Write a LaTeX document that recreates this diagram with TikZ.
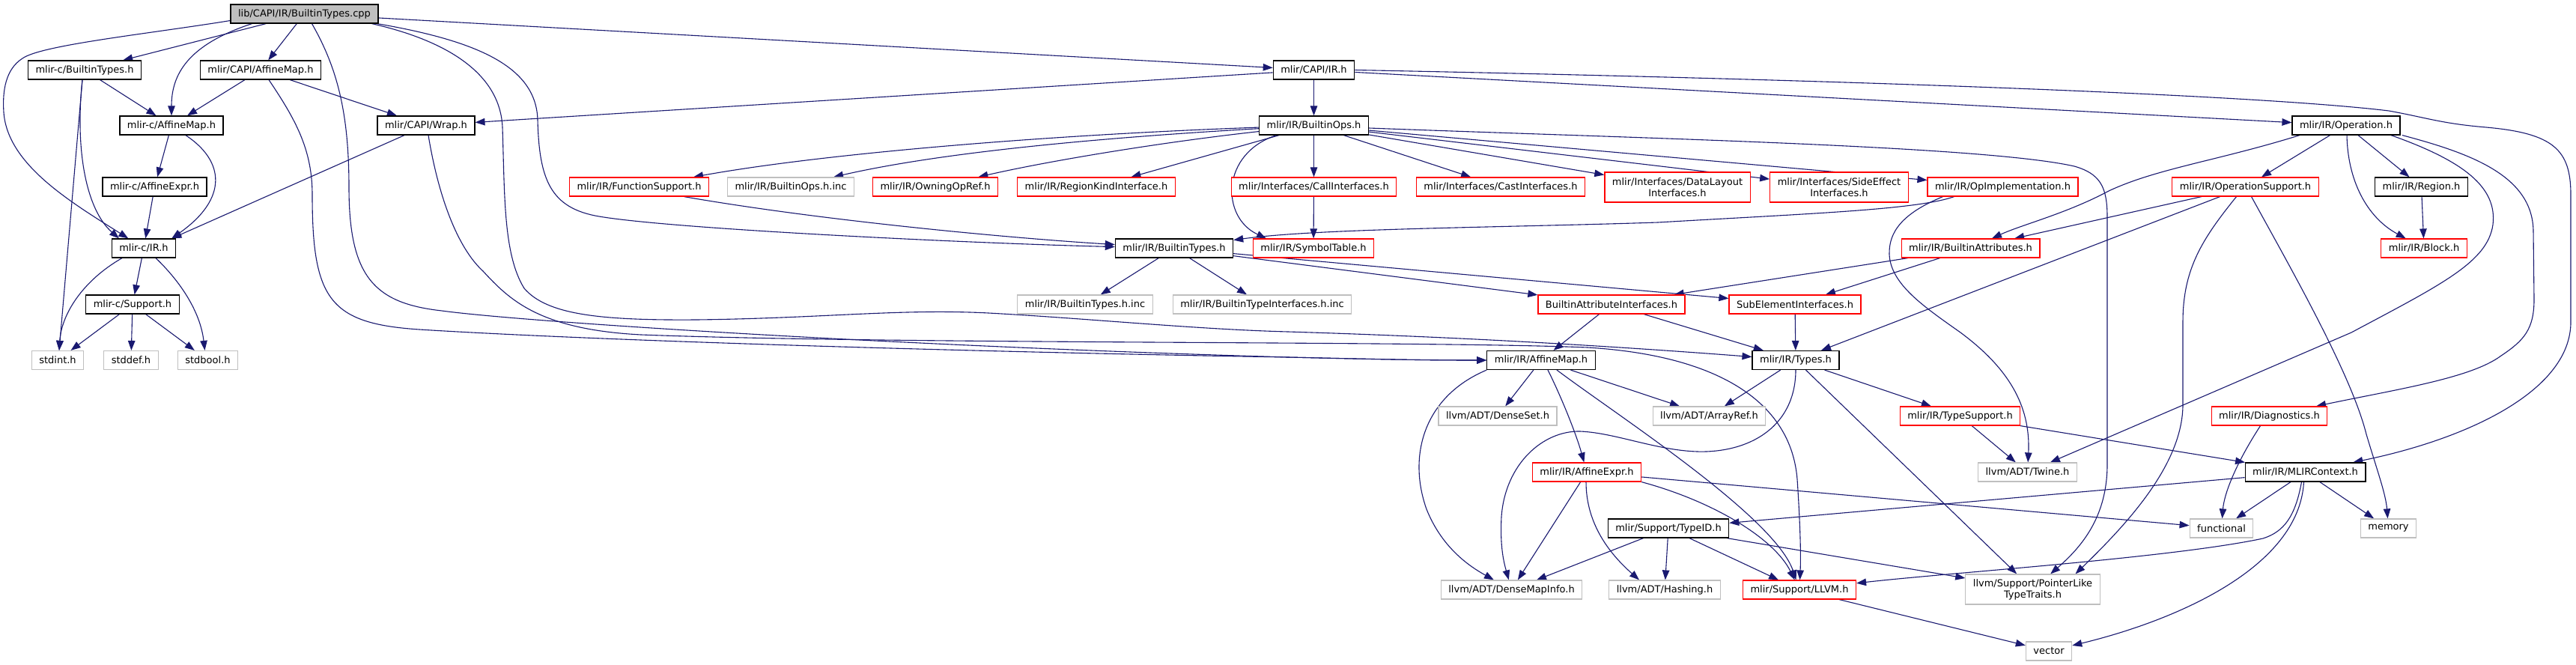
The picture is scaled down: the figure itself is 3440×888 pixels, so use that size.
\documentclass[tikz,border=0pt]{standalone}
\usepackage{fontspec}
\setmainfont{DejaVu Sans}
\usetikzlibrary{arrows.meta}
\definecolor{edgec}{HTML}{191970}
\definecolor{grayb}{HTML}{BFBFBF}
\definecolor{redc}{HTML}{FF0000}
\pgfdeclarelayer{back}
\pgfdeclarelayer{edges}
\pgfsetlayers{back,edges,main}
\begin{document}
\begin{tikzpicture}[x=1pt,y=-1pt,
  nbox/.style={draw, line width=1.2pt, inner xsep=10pt, inner ysep=0pt, minimum height=25pt,
    font=\fontsize{13pt}{15pt}\selectfont, fill=white, text=black},
  blk/.style={nbox, draw=black},
  redb/.style={nbox, draw=redc},
  gryb/.style={nbox, draw=grayb},
  root/.style={nbox, draw=black, fill=grayb},
  two/.style={align=center, minimum height=40pt},
  dep/.style={draw=edgec, line width=1.1pt, -{Triangle[length=13pt,width=9.5pt]}}]
\useasboundingbox (0,0) rectangle (3440,888);
\begin{pgfonlayer}{back}
\fill[white] (0,0) rectangle (3440,888);
\end{pgfonlayer}

\node[root] (T) at (406.5,18.5) {lib/CAPI/IR/BuiltinTypes.cpp};
\node[blk] (cBT) at (113,93.5) {mlir-c/BuiltinTypes.h};
\node[blk] (CAM) at (348,93.5) {mlir/CAPI/AffineMap.h};
\node[blk] (CIR) at (1754.5,93.5) {mlir/CAPI/IR.h};
\node[blk] (cAM) at (229,167.5) {mlir-c/AffineMap.h};
\node[blk] (Wrap) at (569,167.5) {mlir/CAPI/Wrap.h};
\node[blk] (BOps) at (1754.5,167.5) {mlir/IR/BuiltinOps.h};
\node[blk] (Op) at (3133,167.5) {mlir/IR/Operation.h};
\node[blk] (cAE) at (206.5,249.5) {mlir-c/AffineExpr.h};
\node[redb] (FS) at (853.5,249.5) {mlir/IR/FunctionSupport.h};
\node[gryb] (BOpsInc) at (1056,249.5) {mlir/IR/BuiltinOps.h.inc};
\node[redb] (OOR) at (1249,249.5) {mlir/IR/OwningOpRef.h};
\node[redb] (RKI) at (1464,249.5) {mlir/IR/RegionKindInterface.h};
\node[redb] (CallI) at (1754.5,249.5) {mlir/Interfaces/CallInterfaces.h};
\node[redb] (CastI) at (2004,249.5) {mlir/Interfaces/CastInterfaces.h};
\node[redb,two] (DLI) at (2240,250) {mlir/Interfaces/DataLayout\\Interfaces.h};
\node[redb,two] (SEI) at (2456,250) {mlir/Interfaces/SideEffect\\Interfaces.h};
\node[redb] (OpImpl) at (2674.5,249.5) {mlir/IR/OpImplementation.h};
\node[redb] (OpSup) at (2998.5,249.5) {mlir/IR/OperationSupport.h};
\node[blk] (Region) at (3233.5,249.5) {mlir/IR/Region.h};
\node[blk] (cIRh) at (192,331.5) {mlir-c/IR.h};
\node[blk] (BT) at (1568,331.5) {mlir/IR/BuiltinTypes.h};
\node[redb] (ST) at (1754,331.5) {mlir/IR/SymbolTable.h};
\node[redb] (BA) at (2631.5,331.5) {mlir/IR/BuiltinAttributes.h};
\node[redb] (Block) at (3237,331.5) {mlir/IR/Block.h};
\node[blk] (cSup) at (177,406.5) {mlir-c/Support.h};
\node[gryb] (BTInc) at (1449,406.5) {mlir/IR/BuiltinTypes.h.inc};
\node[gryb] (BTIInc) at (1685.5,406.5) {mlir/IR/BuiltinTypeInterfaces.h.inc};
\node[redb] (BAI) at (2152,406.5) {BuiltinAttributeInterfaces.h};
\node[redb] (SubEI) at (2397,406.5) {SubElementInterfaces.h};
\node[gryb] (stdint) at (77,481) {stdint.h};
\node[gryb] (stddef) at (175,481) {stddef.h};
\node[gryb] (stdbool) at (277.5,481) {stdbool.h};
\node[blk] (IRAM) at (2058,481) {mlir/IR/AffineMap.h};
\node[blk] (Types) at (2398,481) {mlir/IR/Types.h};
\node[gryb] (DenseSet) at (2000,555.5) {llvm/ADT/DenseSet.h};
\node[gryb] (ArrayRef) at (2282.5,555.5) {llvm/ADT/ArrayRef.h};
\node[redb] (TypeSup) at (2617.5,555.5) {mlir/IR/TypeSupport.h};
\node[redb] (Diag) at (3030.5,555.5) {mlir/IR/Diagnostics.h};
\node[redb] (AE) at (2119,630.5) {mlir/IR/AffineExpr.h};
\node[gryb] (Twine) at (2707.5,630.5) {llvm/ADT/Twine.h};
\node[blk] (Ctx) at (3078.5,630.5) {mlir/IR/MLIRContext.h};
\node[blk] (TypeID) at (2228,705.5) {mlir/Support/TypeID.h};
\node[gryb] (functional) at (2966.5,705.5) {functional};
\node[gryb] (memory) at (3189.5,705.5) {memory};
\node[gryb] (DMI) at (2018.5,787.5) {llvm/ADT/DenseMapInfo.h};
\node[gryb] (Hashing) at (2223,787.5) {llvm/ADT/Hashing.h};
\node[redb] (LLVM) at (2403,787.5) {mlir/Support/LLVM.h};
\node[gryb,two] (PLTT) at (2714.5,787) {llvm/Support/PointerLike\\TypeTraits.h};
\node[gryb] (vector) at (2736,869.5) {vector};

\begin{pgfonlayer}{edges}
% root
\draw[dep] (T) -- (cBT);
\draw[dep] (T) -- (CAM);
\draw[dep] ([xshift=-70pt]T.south) .. controls (250,60) and (229,100) .. (cAM);
\draw[dep] ([yshift=-9pt]T.west) .. controls (200,45) and (55,60) .. (30,78) .. controls (8,92) and (3,120) .. (5,150) .. controls (10,220) and (95,270) .. (cIRh);
\draw[dep] (T) -- (CIR);
\draw[dep] ([xshift=-2pt]T.south east) .. controls (640,55) and (716,90) .. (718,160) .. controls (720,240) and (735,278) .. (800,289) .. controls (900,306) and (1300,325) .. (BT);
\draw[dep] ([xshift=10pt]T.south) .. controls (450,90) and (466,150) .. (466,250) .. controls (466,370) and (500,405) .. (590,415) .. controls (700,430) and (1200,462) .. (1720,477) .. controls (1850,480) and (1900,481) .. (IRAM);
\draw[dep] ([xshift=90pt]T.south) .. controls (600,55) and (668,100) .. (671,170) .. controls (674,260) and (672,340) .. (700,385) .. controls (730,420) and (800,428) .. (930,427) .. controls (1100,425) and (1200,412) .. (1320,418) .. controls (1450,425) and (1600,440) .. (1720,443) .. controls (1950,450) and (2150,462) .. (Types);
% CAPI AffineMap
\draw[dep] ([xshift=11pt]CAM.south) .. controls (395,160) and (417,200) .. (417,260) .. controls (417,400) and (440,432) .. (560,440) .. controls (800,455) and (1300,470) .. (1720,477) .. controls (1850,480) and (1900,481) .. (IRAM);
\draw[dep] (CAM) -- (cAM);
\draw[dep] (CAM) -- (Wrap);
% Wrap
\draw[dep] ([xshift=3pt]Wrap.south) .. controls (585,260) and (610,330) .. (645,362) .. controls (680,400) and (720,440) .. (856,447) .. controls (1200,460) and (1900,455) .. (2120,464) .. controls (2300,475) and (2392,540) .. (2400,640) .. controls (2404,700) and (2405,740) .. (LLVM);
\draw[dep] ([xshift=-29pt]Wrap.south) -- ([xshift=-6pt]cIRh.north east);
% mlir-c
\draw[dep] (cBT) -- (cAM);
\draw[dep] ([xshift=-3pt]cBT.south) .. controls (100,200) and (115,280) .. ([xshift=-33pt]cIRh.north);
\draw[dep] ([xshift=-3pt]cBT.south) -- ([xshift=2pt]stdint.north);
\draw[dep] (cAM) -- (cAE);
\draw[dep] ([xshift=19pt]cAM.south) .. controls (300,215) and (305,265) .. ([xshift=-6pt]cIRh.north east);
\draw[dep] (cAE) -- (cIRh);
\draw[dep] (cIRh) -- (cSup);
\draw[dep] ([xshift=-29pt]cIRh.south) .. controls (110,375) and (82,420) .. ([xshift=2pt]stdint.north);
\draw[dep] ([xshift=16pt]cIRh.south) .. controls (245,380) and (268,420) .. ([xshift=-4pt]stdbool.north);
\draw[dep] (cSup) -- (stdint);
\draw[dep] (cSup) -- (stddef);
\draw[dep] (cSup) -- (stdbool);
% CAPI IR
\draw[dep] (CIR) -- (Wrap);
\draw[dep] (CIR) -- (BOps);
\draw[dep] (CIR) -- (Op);
\draw[dep] (CIR.east) .. controls (2400,105) and (3000,125) .. (3190,148) .. controls (3240,157) and (3260,165) .. (3320,170) .. controls (3410,178) and (3433,200) .. (3433,260) -- (3433,430) .. controls (3433,520) and (3300,585) .. (Ctx);
% BuiltinOps
\draw[dep] (BOps) .. controls (1400,180) and (1100,205) .. (FS);
\draw[dep] (BOps) .. controls (1450,185) and (1250,205) .. (BOpsInc);
\draw[dep] (BOps) .. controls (1550,190) and (1400,215) .. (OOR);
\draw[dep] (BOps) -- (RKI);
\draw[dep] ([xshift=-50pt]BOps.south) .. controls (1630,205) and (1630,290) .. ([xshift=-63pt]ST.north);
\draw[dep] (BOps) -- (CallI);
\draw[dep] (BOps) -- (CastI);
\draw[dep] (BOps) -- (DLI);
\draw[dep] (BOps) -- (SEI);
\draw[dep] (BOps) -- (OpImpl);
\draw[dep] ([yshift=-3.5pt]BOps.east) .. controls (2200,185) and (2650,195) .. (2770,222) .. controls (2805,232) and (2814,250) .. (2814,290) -- (2814,620) .. controls (2814,690) and (2780,730) .. (PLTT);
\draw[dep] ([xshift=60pt]FS.south) .. controls (1100,295) and (1350,318) .. (BT);
\draw[dep] (CallI) -- (ST);
% OpImplementation
\draw[dep] ([xshift=-65pt]OpImpl.south) .. controls (2560,280) and (2420,285) .. (2214,297) .. controls (2000,304) and (1760,305) .. (BT);
\draw[dep] ([xshift=-80pt]OpImpl.south) .. controls (2540,285) and (2522,310) .. (2523,340) .. controls (2525,380) and (2570,410) .. (2618,444) .. controls (2680,490) and (2712,540) .. (Twine);
% BuiltinTypes
\draw[dep] (BT) -- (BTInc);
\draw[dep] (BT) -- (BTIInc);
\draw[dep] (BT) -- (BAI);
\draw[dep] (BT) -- (SubEI);
% Operation
\draw[dep] (Op) -- (OpSup);
\draw[dep] (Op) -- (Region);
\draw[dep] ([xshift=1pt]Op.south) .. controls (3135,240) and (3160,290) .. (Block);
\draw[dep] ([xshift=-62pt]Op.south) .. controls (2960,215) and (2880,225) .. (2816,255) .. controls (2760,285) and (2700,300) .. (BA);
\draw[dep] ([xshift=60pt]Op.south) .. controls (3290,215) and (3335,250) .. (3329,300) .. controls (3322,350) and (3260,380) .. (3140,444) -- (Twine);
\draw[dep] ([xshift=75pt]Op.south) .. controls (3300,205) and (3383,235) .. (3383,310) -- (3384,400) .. controls (3384,440) and (3370,455) .. (3340,475) .. controls (3300,505) and (3200,520) .. (Diag);
% OperationSupport
\draw[dep] (OpSup) -- (BA);
\draw[dep] (OpSup) -- (Types);
\draw[dep] ([xshift=-12pt]OpSup.south) .. controls (2940,320) and (2915,360) .. (2915,430) -- (2915,540) .. controls (2915,620) and (2840,700) .. ([xshift=57pt]PLTT.north);
\draw[dep] ([xshift=8pt]OpSup.south) .. controls (3060,360) and (3140,500) .. (3160,580) .. controls (3175,630) and (3186,660) .. (memory);
\draw[dep] (Region) -- (Block);
% attributes
\draw[dep] (BA) -- (BAI);
\draw[dep] (BA) -- (SubEI);
\draw[dep] (BAI) -- (IRAM);
\draw[dep] (BAI) -- (Types);
\draw[dep] (SubEI) -- (Types);
% IR AffineMap
\draw[dep] (IRAM) -- (DenseSet);
\draw[dep] (IRAM) -- (ArrayRef);
\draw[dep] ([xshift=9pt]IRAM.south) .. controls (2085,530) and (2105,580) .. (AE);
\draw[dep] ([xshift=21pt]IRAM.south) .. controls (2160,555) and (2370,690) .. (LLVM);
\draw[dep] (IRAM.south west) .. controls (1900,530) and (1880,610) .. (1905,680) .. controls (1925,730) and (1960,755) .. (DMI);
% Types
\draw[dep] (Types) -- (ArrayRef);
\draw[dep] (Types) -- (TypeSup);
\draw[dep] (Types) -- (PLTT);
\draw[dep] (Types.south) .. controls (2398,560) and (2350,600) .. (2279,603) .. controls (2220,605) and (2160,578) .. (2110,576) .. controls (2060,575) and (2010,620) .. (2005,690) .. controls (2003,730) and (2008,750) .. (DMI);
\draw[dep] (TypeSup) -- (Twine);
\draw[dep] (TypeSup) -- (Ctx);
% AffineExpr
\draw[dep] (AE) -- (DMI);
\draw[dep] ([xshift=-1pt]AE.south) .. controls (2118,700) and (2150,740) .. ([xshift=-34pt]Hashing.north);
\draw[dep] (AE.south east) .. controls (2290,670) and (2370,720) .. (LLVM);
\draw[dep] (AE) -- (functional);
% TypeID
\draw[dep] (TypeID) -- (DMI);
\draw[dep] (TypeID) -- (Hashing);
\draw[dep] (TypeID) -- (LLVM);
\draw[dep] (TypeID) -- (PLTT);
% MLIRContext
\draw[dep] (Ctx) -- (TypeID);
\draw[dep] (Ctx) -- (functional);
\draw[dep] (Ctx) -- (memory);
\draw[dep] ([xshift=-2pt]Ctx.south) .. controls (3070,760) and (2900,830) .. (vector);
\draw[dep] ([xshift=-5pt]Ctx.south) .. controls (3065,690) and (3050,710) .. (3022,719) .. controls (2900,745) and (2600,765) .. (LLVM);
\draw[dep] ([xshift=-12pt]Diag.south) .. controls (2985,620) and (2970,660) .. (functional);
\draw[dep] (LLVM) -- (vector);
\end{pgfonlayer}
\end{tikzpicture}
\end{document}
